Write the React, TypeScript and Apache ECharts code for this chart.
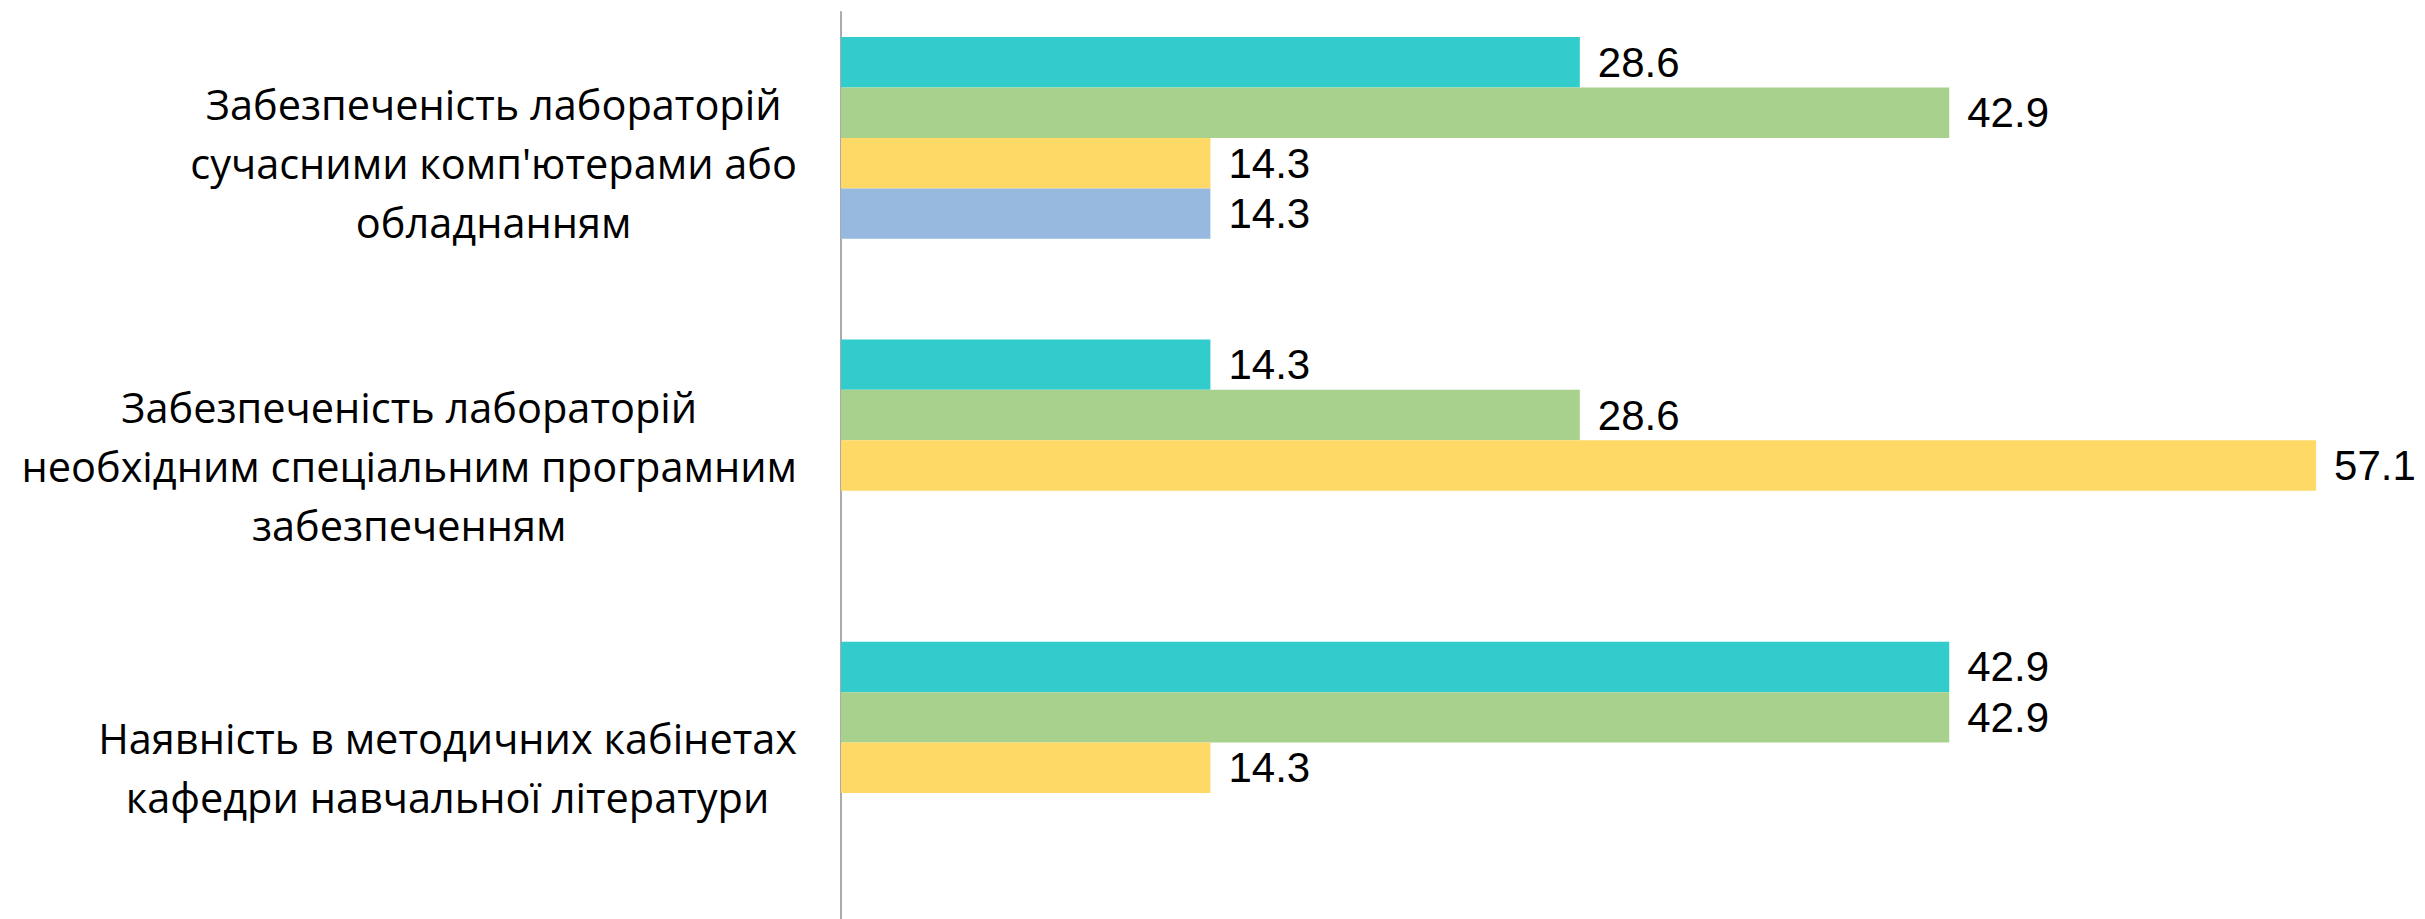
import React, { useEffect, useRef } from "react";
import * as echarts from "echarts";

const categories = [
  "Забезпеченість лабораторій\nсучасними комп'ютерами або\nобладнанням",
  "Забезпеченість лабораторій\nнеобхідним спеціальним програмним\nзабезпеченням",
  "Наявність в методичних кабінетах\nкафедри навчальної літератури",
];

const series1 = [28.6, 14.3, 42.9];
const series2 = [42.9, 28.6, 42.9];
const series3 = [14.3, 57.1, 14.3];
const series4 = [14.3, null, null];
const series5 = [null, null, null];

const seriesNames = ["Ряд 1", "Ряд 2", "Ряд 3", "Ряд 4", "Ряд 5"];
const seriesColors = ["#33CCCC", "#A9D18E", "#FFD966", "#98B9DF", "#F4B183"];

const FONT = "'Open Sans', 'Noto Sans', sans-serif";
const VALUE_FONT = "'Liberation Sans', Arial, sans-serif";

export default function App() {
  const ref = useRef<HTMLDivElement>(null);

  useEffect(() => {
    if (!ref.current) return;
    const chart = echarts.init(ref.current, undefined, { renderer: "svg" });
    const allData = [series1, series2, series3, series4, series5];

    const option: any = {
      animation: false,
      backgroundColor: "#FFFFFF",
      grid: { left: 841, top: 12, width: 1550, height: 911, containLabel: false },
      xAxis: {
        type: "value",
        min: 0,
        max: 60,
        show: false,
        splitLine: { show: false },
      },
      yAxis: {
        type: "category",
        data: categories,
        inverse: true,
        axisTick: { show: false },
        splitLine: { show: false },
        axisLine: { show: true, lineStyle: { color: "#ABABAB", width: 2 } },
        axisLabel: {
          margin: 44,
          align: "right",
          formatter: (value: string) =>
            value
              .split("\n")
              .map((l) => `{a|${l}}`)
              .join("\n"),
          rich: {
            a: {
              align: "center",
              fontFamily: FONT,
              fontSize: 41.5,
              lineHeight: 59,
              color: "#000000",
            },
          },
        },
      },
      series: allData.map((d, i) => ({
        name: seriesNames[i],
        type: "bar",
        data: d,
        barGap: "0%",
        barCategoryGap: "16.6%",
        itemStyle: { color: seriesColors[i] },
        label: {
          show: true,
          position: "right",
          distance: 18,
          fontFamily: VALUE_FONT,
          fontSize: 42,
          lineHeight: 46,
          color: "#000000",
          formatter: (p: any) => (p.value == null ? "" : Number(p.value).toFixed(1)),
        },
      })),
    };

    chart.setOption(option);
    return () => chart.dispose();
  }, []);

  return (
    <div
      ref={ref}
      style={{ position: "absolute", left: 0, top: 0, width: 2425, height: 919 }}
    />
  );
}
